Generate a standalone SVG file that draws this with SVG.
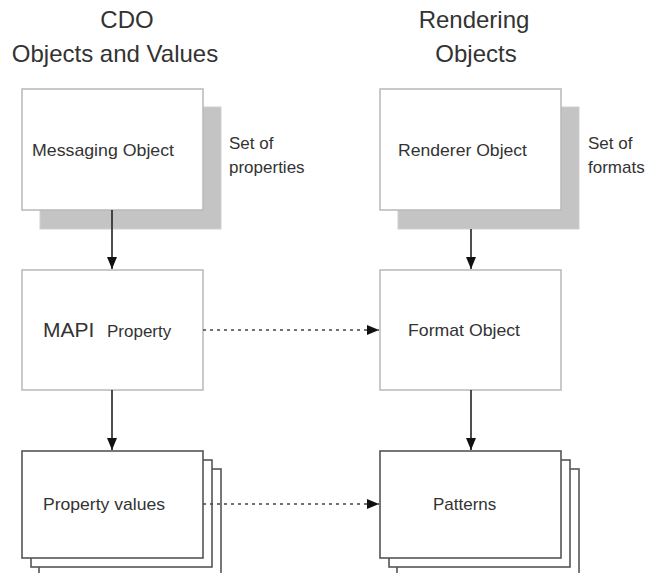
<svg xmlns="http://www.w3.org/2000/svg" width="649" height="573" viewBox="0 0 649 573">
<style>
.title{font-family:"Liberation Sans",Arial,sans-serif;font-size:24px;fill:#333;text-anchor:middle}
.lbl{font-family:"Liberation Sans",Arial,sans-serif;font-size:17px;fill:#333}
.box{fill:#fff;stroke:#b8b8b8;stroke-width:1.5}
.shadow{fill:#c4c4c4;stroke:#d0d0d0;stroke-width:1}
.stk{fill:#fff;stroke:#555;stroke-width:1.6}
.conn{stroke:#222;stroke-width:1.6;fill:none}
.dash{stroke:#444;stroke-width:1.5;stroke-dasharray:3 4;fill:none}
</style>
<defs>
<marker id="ah" viewBox="0 0 12 10" refX="12" refY="5" markerWidth="12" markerHeight="10" markerUnits="userSpaceOnUse" orient="auto">
<path d="M0,0 L12,5 L0,10 Z" fill="#111"/>
</marker>
</defs>
<rect width="649" height="573" fill="#fff"/>
<g id="title-left">
<text class="title" x="127" y="28">CDO</text>
<text class="title" x="115" y="62">Objects and Values</text>
</g>
<g id="title-right">
<text class="title" x="474" y="28">Rendering</text>
<text class="title" x="476" y="62">Objects</text>
</g>
<g id="messaging-object">
<rect class="shadow" x="40" y="107" width="181" height="122"/>
<rect class="box" x="22" y="89" width="181" height="121"/>
<text class="lbl" x="32" y="156" textLength="142" lengthAdjust="spacingAndGlyphs">Messaging Object</text>
<text class="lbl" x="229" y="149">Set of</text>
<text class="lbl" x="229" y="173">properties</text>
</g>
<g id="renderer-object">
<rect class="shadow" x="398" y="107" width="181" height="122"/>
<rect class="box" x="380" y="89" width="181" height="121"/>
<text class="lbl" x="398" y="156" textLength="129" lengthAdjust="spacingAndGlyphs">Renderer Object</text>
<text class="lbl" x="588" y="149">Set of</text>
<text class="lbl" x="588" y="173">formats</text>
</g>
<g id="mapi-property">
<rect class="box" x="22" y="270" width="181" height="120"/>
<text class="lbl" x="43" y="337" style="font-size:21px">MAPI</text>
<text class="lbl" x="107" y="337">Property</text>
</g>
<g id="format-object">
<rect class="box" x="380" y="270" width="181" height="120"/>
<text class="lbl" x="408" y="336" textLength="112" lengthAdjust="spacingAndGlyphs">Format Object</text>
</g>
<g id="property-values">
<rect class="stk" x="39" y="469" width="182" height="120"/>
<rect class="stk" x="31" y="460" width="181" height="107"/>
<rect class="stk" x="22" y="451" width="181" height="107"/>
<text class="lbl" x="43" y="510" textLength="122" lengthAdjust="spacingAndGlyphs">Property values</text>
</g>
<g id="patterns">
<rect class="stk" x="397" y="469" width="182" height="120"/>
<rect class="stk" x="389" y="460" width="181" height="107"/>
<rect class="stk" x="380" y="451" width="181" height="107"/>
<text class="lbl" x="433" y="510">Patterns</text>
</g>
<g id="connectors">
<line class="conn" x1="112" y1="210" x2="112" y2="269" marker-end="url(#ah)"/>
<line class="conn" x1="471" y1="229" x2="471" y2="269" marker-end="url(#ah)"/>
<line class="conn" x1="112" y1="390" x2="112" y2="450" marker-end="url(#ah)"/>
<line class="conn" x1="471" y1="390" x2="471" y2="450" marker-end="url(#ah)"/>
<line class="dash" x1="203" y1="330" x2="379" y2="330" marker-end="url(#ah)"/>
<line class="dash" x1="203" y1="504" x2="379" y2="504" marker-end="url(#ah)"/>
</g>
</svg>
